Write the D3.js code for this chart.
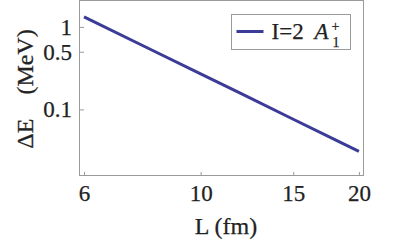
<!DOCTYPE html>
<html>
<head>
<meta charset="utf-8">
<script src="https://cdn.jsdelivr.net/npm/d3@7"></script>
<style>
  body { margin: 0; background: #fff; }
  svg text { stroke: #222; stroke-width: 0.25px; }
</style>
</head>
<body>
<svg id="chart" width="399" height="249"></svg>
<script>
const lengths = [6, 8, 10, 12, 15, 18, 20];
const deltaE = [1.32, 0.54, 0.27, 0.153, 0.076, 0.043, 0.031];
const xTicks = [6, 10, 15, 20];
const yTicks = [0.1, 0.5, 1];

const width = 399, height = 249;
const margin = { left: 79, right: 35, top: 1, bottom: 73 };
const font = "'Liberation Serif', 'DejaVu Serif', serif";
const fs = 23;

const svg = d3.select('#chart').attr('font-family', font);

const x = d3.scaleLog()
  .domain([5.87, 20.45])
  .range([margin.left, width - margin.right]);

const y = d3.scaleLog()
  .domain([0.0156, 2.06])
  .range([height - margin.bottom, margin.top]);

const frameColor = '#9a9a9a';

// x axis
svg.append('g')
  .attr('transform', 'translate(0,' + (height - margin.bottom) + ')')
  .call(d3.axisBottom(x).tickValues(xTicks).tickFormat(d3.format('d')).tickSizeInner(-4).tickSizeOuter(0).tickPadding(9))
  .attr('font-family', font)
  .call(g => g.select('.domain').remove())
  .call(g => g.selectAll('line').attr('stroke', frameColor))
  .call(g => g.selectAll('text').attr('font-size', fs).attr('fill', '#222'));

// y axis
svg.append('g')
  .attr('transform', 'translate(' + margin.left + ',0)')
  .call(d3.axisLeft(y).tickValues(yTicks).tickFormat(d => d).tickSizeInner(-5).tickSizeOuter(0).tickPadding(7))
  .attr('font-family', font)
  .call(g => g.select('.domain').remove())
  .call(g => g.selectAll('line').attr('stroke', frameColor))
  .call(g => g.selectAll('text').attr('font-size', fs).attr('fill', '#222'));

// frame
svg.append('rect')
  .attr('x', margin.left + 0.5)
  .attr('y', margin.top - 0.5)
  .attr('width', width - margin.right - margin.left - 1)
  .attr('height', height - margin.bottom - margin.top)
  .attr('fill', 'none')
  .attr('stroke', frameColor);

// data line
const line = d3.line()
  .x((d, i) => x(lengths[i]))
  .y(d => y(d));

svg.append('path')
  .datum(deltaE)
  .attr('d', line)
  .attr('fill', 'none')
  .attr('stroke', '#3b3b98')
  .attr('stroke-width', 3);

// axis labels
svg.append('text')
  .attr('x', 226)
  .attr('y', 234)
  .attr('text-anchor', 'middle')
  .attr('font-size', 24)
  .attr('fill', '#222')
  .text('L (fm)');

svg.append('text')
  .attr('transform', 'translate(33,89) rotate(-90)')
  .attr('text-anchor', 'middle')
  .attr('font-size', 24)
  .attr('fill', '#222')
  .attr('xml:space', 'preserve')
  .text('ΔE    (MeV)');

// legend
const legend = svg.append('g').attr('transform', 'translate(231.5,14.5)');
legend.append('rect')
  .attr('width', 119)
  .attr('height', 35)
  .attr('fill', '#fff')
  .attr('stroke', frameColor);
legend.append('line')
  .attr('x1', 5).attr('x2', 32)
  .attr('y1', 17).attr('y2', 17)
  .attr('stroke', '#3b3b98')
  .attr('stroke-width', 3);
legend.append('text')
  .attr('x', 40)
  .attr('y', 24.5)
  .attr('font-size', fs)
  .attr('fill', '#222')
  .text('I=2');
legend.append('text')
  .attr('x', 83)
  .attr('y', 24.5)
  .attr('font-size', fs)
  .attr('font-style', 'italic')
  .attr('fill', '#222')
  .text('A');
legend.append('text')
  .attr('x', 101)
  .attr('y', 32)
  .attr('font-size', 14)
  .attr('fill', '#222')
  .text('1');
legend.append('text')
  .attr('x', 100)
  .attr('y', 16)
  .attr('font-size', 14)
  .attr('fill', '#222')
  .text('+');
</script>
</body>
</html>
